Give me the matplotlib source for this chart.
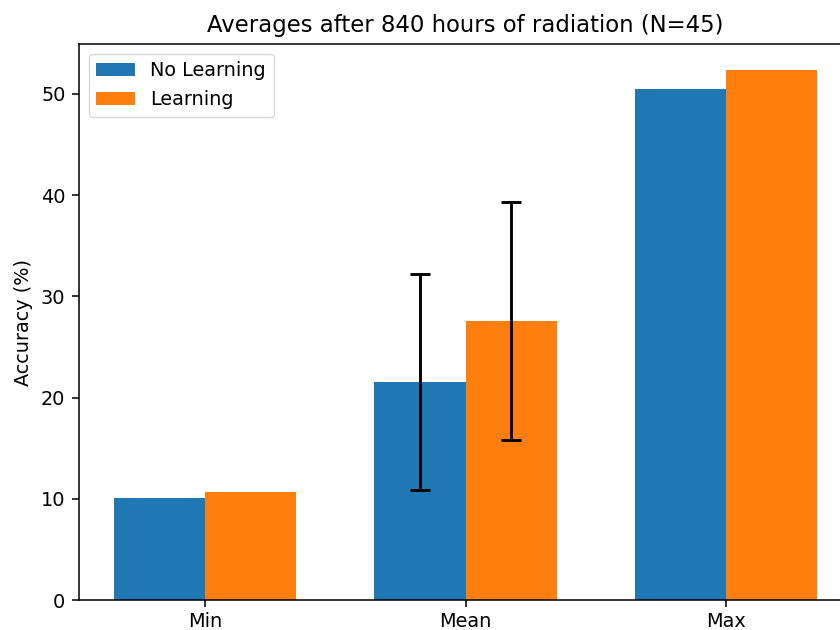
import matplotlib
matplotlib.use("Agg")
import matplotlib.pyplot as plt
import numpy as np

categories = ["Min", "Mean", "Max"]
no_learning = [10.1, 21.5, 50.5]
learning = [10.7, 27.6, 52.3]
no_learning_err = [0, 10.65, 0]
learning_err = [0, 11.75, 0]
title = "Averages after 840 hours of radiation (N=45)"

s = 1.39
plt.rcParams.update({
    "font.size": 10 * s,
    "axes.linewidth": 0.8 * s,
    "xtick.major.width": 0.8 * s,
    "ytick.major.width": 0.8 * s,
    "xtick.major.size": 3.5 * s,
    "ytick.major.size": 3.5 * s,
    "xtick.major.pad": 3.5 * s - 1.2,
    "ytick.major.pad": 3.5 * s,
    "legend.fontsize": 10 * s,
})

fig = plt.figure(figsize=(8.4, 6.3), dpi=100)
ax = fig.add_axes([79 / 840, 30 / 630, (852 - 79) / 840, (600 - 44) / 630])

x = np.arange(len(categories))
w = 0.35
ax.bar(x - w / 2, no_learning, w, label="No Learning", color="#1f77b4")
ax.bar(x + w / 2, learning, w, label="Learning", color="#ff7f0e")
mask = [1]
ax.errorbar(x[mask] - w / 2, np.array(no_learning)[mask], yerr=np.array(no_learning_err)[mask],
            fmt="none", ecolor="black", elinewidth=1.5 * s, capsize=5 * s, capthick=1.5 * s)
ax.errorbar(x[mask] + w / 2, np.array(learning)[mask], yerr=np.array(learning_err)[mask],
            fmt="none", ecolor="black", elinewidth=1.5 * s, capsize=5 * s, capthick=1.5 * s)

ax.set_xticks(x)
ax.set_xticklabels(categories)
ax.set_ylabel("Accuracy (%)", labelpad=4 * s)
ax.set_title(title, fontsize=12 * s * 0.985, pad=6 * s)
ax.legend(loc="upper left", borderaxespad=0.5)

fig.savefig("out.png", dpi=100)
